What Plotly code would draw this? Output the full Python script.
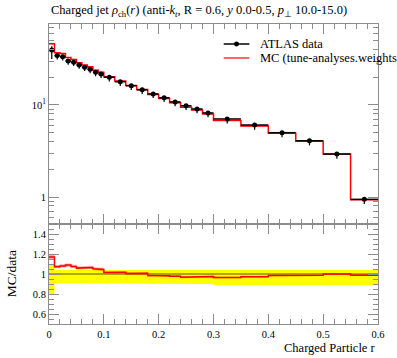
import plotly.graph_objects as go

# ---- data ----
edges = [0.0, 0.01, 0.02, 0.03, 0.04, 0.05, 0.06, 0.07, 0.08, 0.09, 0.10,
         0.12, 0.14, 0.16, 0.18, 0.20, 0.22, 0.24, 0.26, 0.28, 0.30,
         0.35, 0.40, 0.45, 0.50, 0.55, 0.60]
data_vals = [39.6, 34.4, 33.5, 30.1, 29.1, 27.2, 25.7, 24.4, 22.7, 21.7,
             20.0, 17.9, 16.2, 14.6, 13.2, 12.0, 10.8, 9.8, 9.05, 8.2,
             7.05, 6.06, 5.0, 4.09, 2.93, 0.944]
data_up_rel = [0.10, 0.04, 0.04, 0.04, 0.04, 0.04, 0.04, 0.04, 0.04, 0.04,
               0.04, 0.045, 0.04, 0.04, 0.04, 0.045, 0.04, 0.04, 0.045, 0.04,
               0.04, 0.045, 0.04, 0.045, 0.04, 0.04]
data_dn_rel = [0.20, 0.095, 0.09, 0.09, 0.09, 0.09, 0.09, 0.095, 0.095, 0.095,
               0.10, 0.10, 0.10, 0.10, 0.10, 0.10, 0.10, 0.10, 0.10, 0.10,
               0.11, 0.11, 0.11, 0.11, 0.11, 0.11]
mc_vals = [46.3, 36.9, 36.2, 32.8, 31.3, 28.8, 27.2, 26.0, 23.9, 22.7,
           20.3, 18.2, 16.3, 14.7, 13.0, 11.8, 10.55, 9.48, 8.81, 7.99,
           6.80, 5.90, 4.92, 4.04, 2.93, 0.932]
mc_err_rel = [0.02, 0.015, 0.015, 0.015, 0.015, 0.015, 0.015, 0.015, 0.015, 0.015,
              0.01, 0.01, 0.01, 0.01, 0.01, 0.01, 0.01, 0.01, 0.01, 0.01,
              0.008, 0.008, 0.008, 0.008, 0.008, 0.008]

title_text = ("Charged jet <i>ρ</i><sub>ch</sub>(<i>r</i>) (anti-<i>k</i><sub><i>t</i></sub>, "
              "R = 0.6, <i>y</i> 0.0-0.5, <i>p</i><sub>⊥</sub> 10.0-15.0)")
x_title = "Charged Particle r"
ratio_title = "MC/data"
legend_labels = ["ATLAS data", "MC (tune-analyses.weights)"]

FONT = "Liberation Serif"
FRAME = "#8c8c8c"

centers = [(edges[i] + edges[i + 1]) / 2 for i in range(len(data_vals))]
halfw = [(edges[i + 1] - edges[i]) / 2 for i in range(len(data_vals))]


def step(vals):
    xs, ys = [], []
    for i, v in enumerate(vals):
        xs += [edges[i], edges[i + 1]]
        ys += [v, v]
    return xs, ys


def band(lo, hi):
    xh, yh = step(hi)
    xl, yl = step(lo)
    return xh + xl[::-1], yh + yl[::-1]


fig = go.Figure()

# ---- main panel ----
mc_lo = [m * (1 - e) for m, e in zip(mc_vals, mc_err_rel)]
mc_hi = [m * (1 + e) for m, e in zip(mc_vals, mc_err_rel)]
bx, by = band(mc_lo, mc_hi)
fig.add_trace(go.Scatter(x=bx, y=by, fill="toself", fillcolor="rgba(255,0,0,0.35)",
                         line=dict(width=0), mode="lines", hoverinfo="skip",
                         showlegend=False, xaxis="x", yaxis="y"))
sx, sy = step(mc_vals)
fig.add_trace(go.Scatter(x=sx, y=sy, mode="lines", line=dict(color="red", width=1.5),
                         showlegend=False, xaxis="x", yaxis="y"))
fig.add_trace(go.Scatter(
    x=centers, y=data_vals, mode="markers",
    marker=dict(color="black", size=5),
    error_y=dict(type="data", symmetric=False,
                 array=[v * u for v, u in zip(data_vals, data_up_rel)],
                 arrayminus=[v * d for v, d in zip(data_vals, data_dn_rel)],
                 color="black", thickness=1.2, width=0),
    error_x=dict(type="data", array=halfw, color="black", thickness=1.5, width=0),
    showlegend=False, xaxis="x", yaxis="y"))

# ---- ratio panel ----
ones = [1.0] * len(data_vals)
r_lo = [1 - d for d in data_dn_rel]
r_hi = [1 + u for u in data_up_rel]
bx, by = band(r_lo, r_hi)
fig.add_trace(go.Scatter(x=bx, y=by, fill="toself", fillcolor="#ffff00",
                         line=dict(width=0), mode="lines", hoverinfo="skip",
                         showlegend=False, xaxis="x2", yaxis="y2"))
sx, sy = step(ones)
fig.add_trace(go.Scatter(x=sx, y=sy, mode="lines", line=dict(color="#555500", width=1),
                         showlegend=False, xaxis="x2", yaxis="y2"))
ratio = [m / d for m, d in zip(mc_vals, data_vals)]
rr_lo = [r * (1 - e) for r, e in zip(ratio, mc_err_rel)]
rr_hi = [r * (1 + e) for r, e in zip(ratio, mc_err_rel)]
bx, by = band(rr_lo, rr_hi)
fig.add_trace(go.Scatter(x=bx, y=by, fill="toself", fillcolor="rgba(255,0,0,0.35)",
                         line=dict(width=0), mode="lines", hoverinfo="skip",
                         showlegend=False, xaxis="x2", yaxis="y2"))
sx, sy = step(ratio)
fig.add_trace(go.Scatter(x=sx, y=sy, mode="lines", line=dict(color="red", width=1.5),
                         showlegend=False, xaxis="x2", yaxis="y2"))

# ---- axes ----
common = dict(showline=True, linecolor=FRAME, linewidth=1, mirror="allticks",
              ticks="inside", tickcolor=FRAME, ticklen=10, showgrid=False,
              zeroline=False, tickfont=dict(family=FONT, size=10.5, color="black"))

minor_main_y = [0.6, 0.7, 0.8, 0.9, 2, 3, 4, 5, 6, 7, 8, 9, 20, 30, 40, 50, 60, 70]

fig.update_layout(
    width=397, height=358,
    margin=dict(l=49, r=13, t=24, b=34),
    paper_bgcolor="white", plot_bgcolor="white",
    showlegend=False,
    xaxis=dict(domain=[0, 1], range=[0, 0.6], anchor="y", showticklabels=False,
               tickvals=[0, 0.1, 0.2, 0.3, 0.4, 0.5, 0.6],
               minor=dict(dtick=0.02, tick0=0, ticks="inside", ticklen=5, tickcolor=FRAME),
               **common),
    yaxis=dict(domain=[1 / 3, 1], type="log", range=[-0.293, 1.880], anchor="x",
               tickvals=[1, 10], ticktext=["1", "10<sup>1</sup>"],
               minor=dict(tickmode="array", tickvals=minor_main_y, ticks="inside",
                          ticklen=5, tickcolor=FRAME),
               **common),
    xaxis2=dict(domain=[0, 1], range=[0, 0.6], anchor="y2",
                tickvals=[0, 0.1, 0.2, 0.3, 0.4, 0.5, 0.6],
                ticktext=["0", "0.1", "0.2", "0.3", "0.4", "0.5", "0.6"],
                minor=dict(dtick=0.02, tick0=0, ticks="inside", ticklen=5, tickcolor=FRAME),
                **common),
    yaxis2=dict(domain=[0, 1 / 3], range=[0.5, 1.5], anchor="x2",
                tickvals=[0.6, 0.8, 1.0, 1.2, 1.4],
                ticktext=["0.6", "0.8", "1", "1.2", "1.4"],
                minor=dict(dtick=0.05, tick0=0.5, ticks="inside", ticklen=5, tickcolor=FRAME),
                **common),
)

# ---- texts ----
fig.add_annotation(text=title_text, xref="paper", yref="paper", x=0, y=1.0,
                   xanchor="left", yanchor="bottom", yshift=3, showarrow=False,
                   font=dict(family=FONT, size=12.5, color="black"))
fig.add_annotation(text=x_title, xref="paper", yref="paper", x=1, y=-0.08,
                   xanchor="right", yanchor="middle", showarrow=False,
                   font=dict(family=FONT, size=12.5, color="black"))
fig.add_annotation(text=ratio_title, xref="paper", yref="paper", x=-0.115, y=1 / 6,
                   xanchor="center", yanchor="middle", textangle=-90, showarrow=False,
                   font=dict(family=FONT, size=13.5, color="black"))

# ---- legend (manual) ----
ly = [0.9333, 0.8867]
fig.add_shape(type="line", xref="paper", yref="paper", x0=0.531, x1=0.609, y0=ly[0], y1=ly[0],
              line=dict(color="black", width=1.5))
fig.add_shape(type="circle", xref="paper", yref="paper", x0=0.570 - 0.0075, x1=0.570 + 0.0075,
              y0=ly[0] - 0.0083, y1=ly[0] + 0.0083, fillcolor="black", line=dict(color="black", width=0))
fig.add_shape(type="line", xref="paper", yref="paper", x0=0.531, x1=0.609, y0=ly[1], y1=ly[1],
              line=dict(color="red", width=1.2))
for lab, yy in zip(legend_labels, ly):
    fig.add_annotation(text=lab, xref="paper", yref="paper", x=0.636, y=yy,
                       xanchor="left", yanchor="middle", showarrow=False,
                       font=dict(family=FONT, size=12.5, color="black"))

fig.write_html("out.html", config={"displayModeBar": False},
               post_script="document.body.style.margin='0';document.body.style.overflow='hidden';")
